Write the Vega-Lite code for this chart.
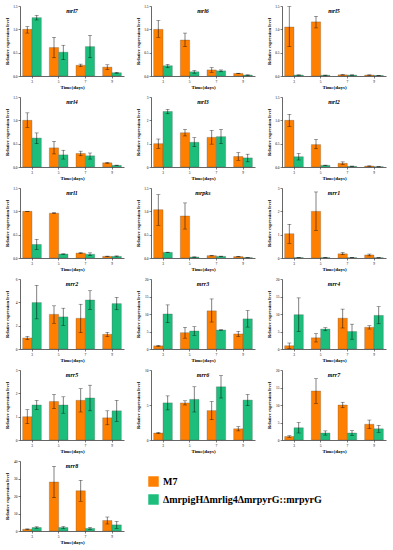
{
"$schema":"https://vega.github.io/schema/vega-lite/v6.json",
"padding":{"left":4,"top":4,"right":2,"bottom":1},
"data":{"values":[
{"gene":"mrl7","day":3,"strain":"M7","mean":1.0,"lo":0.92,"hi":1.06},
{"gene":"mrl7","day":3,"strain":"ΔmrpigHΔmrlig4ΔmrpyrG::mrpyrG","mean":1.25,"lo":1.2,"hi":1.3},
{"gene":"mrl7","day":5,"strain":"M7","mean":0.61,"lo":0.39,"hi":0.83},
{"gene":"mrl7","day":5,"strain":"ΔmrpigHΔmrlig4ΔmrpyrG::mrpyrG","mean":0.51,"lo":0.35,"hi":0.66},
{"gene":"mrl7","day":7,"strain":"M7","mean":0.23,"lo":0.2,"hi":0.255},
{"gene":"mrl7","day":7,"strain":"ΔmrpigHΔmrlig4ΔmrpyrG::mrpyrG","mean":0.63,"lo":0.39,"hi":0.87},
{"gene":"mrl7","day":9,"strain":"M7","mean":0.19,"lo":0.14,"hi":0.24},
{"gene":"mrl7","day":9,"strain":"ΔmrpigHΔmrlig4ΔmrpyrG::mrpyrG","mean":0.07,"lo":0.06,"hi":0.08},
{"gene":"mrl6","day":3,"strain":"M7","mean":1.0,"lo":0.83,"hi":1.19},
{"gene":"mrl6","day":3,"strain":"ΔmrpigHΔmrlig4ΔmrpyrG::mrpyrG","mean":0.22,"lo":0.18,"hi":0.25},
{"gene":"mrl6","day":5,"strain":"M7","mean":0.77,"lo":0.63,"hi":0.92},
{"gene":"mrl6","day":5,"strain":"ΔmrpigHΔmrlig4ΔmrpyrG::mrpyrG","mean":0.09,"lo":0.06,"hi":0.12},
{"gene":"mrl6","day":7,"strain":"M7","mean":0.13,"lo":0.08,"hi":0.18},
{"gene":"mrl6","day":7,"strain":"ΔmrpigHΔmrlig4ΔmrpyrG::mrpyrG","mean":0.11,"lo":0.09,"hi":0.13},
{"gene":"mrl6","day":9,"strain":"M7","mean":0.055,"lo":0.05,"hi":0.06},
{"gene":"mrl6","day":9,"strain":"ΔmrpigHΔmrlig4ΔmrpyrG::mrpyrG","mean":0.02,"lo":0.015,"hi":0.025},
{"gene":"mrl5","day":3,"strain":"M7","mean":1.05,"lo":0.63,"hi":1.49},
{"gene":"mrl5","day":3,"strain":"ΔmrpigHΔmrlig4ΔmrpyrG::mrpyrG","mean":0.02,"lo":0.015,"hi":0.025},
{"gene":"mrl5","day":5,"strain":"M7","mean":1.16,"lo":1.03,"hi":1.28},
{"gene":"mrl5","day":5,"strain":"ΔmrpigHΔmrlig4ΔmrpyrG::mrpyrG","mean":0.015,"lo":0.01,"hi":0.02},
{"gene":"mrl5","day":7,"strain":"M7","mean":0.025,"lo":0.02,"hi":0.03},
{"gene":"mrl5","day":7,"strain":"ΔmrpigHΔmrlig4ΔmrpyrG::mrpyrG","mean":0.02,"lo":0.015,"hi":0.025},
{"gene":"mrl5","day":9,"strain":"M7","mean":0.02,"lo":0.015,"hi":0.025},
{"gene":"mrl5","day":9,"strain":"ΔmrpigHΔmrlig4ΔmrpyrG::mrpyrG","mean":0.01,"lo":0.008,"hi":0.012},
{"gene":"mrl4","day":3,"strain":"M7","mean":1.0,"lo":0.85,"hi":1.16},
{"gene":"mrl4","day":3,"strain":"ΔmrpigHΔmrlig4ΔmrpyrG::mrpyrG","mean":0.62,"lo":0.5,"hi":0.73},
{"gene":"mrl4","day":5,"strain":"M7","mean":0.41,"lo":0.28,"hi":0.55},
{"gene":"mrl4","day":5,"strain":"ΔmrpigHΔmrlig4ΔmrpyrG::mrpyrG","mean":0.26,"lo":0.17,"hi":0.36},
{"gene":"mrl4","day":7,"strain":"M7","mean":0.29,"lo":0.24,"hi":0.34},
{"gene":"mrl4","day":7,"strain":"ΔmrpigHΔmrlig4ΔmrpyrG::mrpyrG","mean":0.24,"lo":0.17,"hi":0.3},
{"gene":"mrl4","day":9,"strain":"M7","mean":0.09,"lo":0.08,"hi":0.1},
{"gene":"mrl4","day":9,"strain":"ΔmrpigHΔmrlig4ΔmrpyrG::mrpyrG","mean":0.035,"lo":0.03,"hi":0.04},
{"gene":"mrl3","day":3,"strain":"M7","mean":1.0,"lo":0.8,"hi":1.2},
{"gene":"mrl3","day":3,"strain":"ΔmrpigHΔmrlig4ΔmrpyrG::mrpyrG","mean":2.38,"lo":2.28,"hi":2.47},
{"gene":"mrl3","day":5,"strain":"M7","mean":1.47,"lo":1.33,"hi":1.61},
{"gene":"mrl3","day":5,"strain":"ΔmrpigHΔmrlig4ΔmrpyrG::mrpyrG","mean":1.06,"lo":0.87,"hi":1.26},
{"gene":"mrl3","day":7,"strain":"M7","mean":1.27,"lo":0.98,"hi":1.57},
{"gene":"mrl3","day":7,"strain":"ΔmrpigHΔmrlig4ΔmrpyrG::mrpyrG","mean":1.3,"lo":1.0,"hi":1.61},
{"gene":"mrl3","day":9,"strain":"M7","mean":0.45,"lo":0.29,"hi":0.62},
{"gene":"mrl3","day":9,"strain":"ΔmrpigHΔmrlig4ΔmrpyrG::mrpyrG","mean":0.39,"lo":0.22,"hi":0.55},
{"gene":"mrl2","day":3,"strain":"M7","mean":1.0,"lo":0.87,"hi":1.13},
{"gene":"mrl2","day":3,"strain":"ΔmrpigHΔmrlig4ΔmrpyrG::mrpyrG","mean":0.22,"lo":0.15,"hi":0.29},
{"gene":"mrl2","day":5,"strain":"M7","mean":0.48,"lo":0.39,"hi":0.59},
{"gene":"mrl2","day":5,"strain":"ΔmrpigHΔmrlig4ΔmrpyrG::mrpyrG","mean":0.035,"lo":0.03,"hi":0.04},
{"gene":"mrl2","day":7,"strain":"M7","mean":0.08,"lo":0.055,"hi":0.11},
{"gene":"mrl2","day":7,"strain":"ΔmrpigHΔmrlig4ΔmrpyrG::mrpyrG","mean":0.015,"lo":0.01,"hi":0.02},
{"gene":"mrl2","day":9,"strain":"M7","mean":0.02,"lo":0.015,"hi":0.025},
{"gene":"mrl2","day":9,"strain":"ΔmrpigHΔmrlig4ΔmrpyrG::mrpyrG","mean":0.005,"lo":0.004,"hi":0.006},
{"gene":"mrl1","day":3,"strain":"M7","mean":1.0,"lo":1.0,"hi":1.0},
{"gene":"mrl1","day":3,"strain":"ΔmrpigHΔmrlig4ΔmrpyrG::mrpyrG","mean":0.29,"lo":0.18,"hi":0.4},
{"gene":"mrl1","day":5,"strain":"M7","mean":0.96,"lo":0.95,"hi":0.97},
{"gene":"mrl1","day":5,"strain":"ΔmrpigHΔmrlig4ΔmrpyrG::mrpyrG","mean":0.085,"lo":0.08,"hi":0.09},
{"gene":"mrl1","day":7,"strain":"M7","mean":0.105,"lo":0.095,"hi":0.115},
{"gene":"mrl1","day":7,"strain":"ΔmrpigHΔmrlig4ΔmrpyrG::mrpyrG","mean":0.08,"lo":0.05,"hi":0.11},
{"gene":"mrl1","day":9,"strain":"M7","mean":0.035,"lo":0.03,"hi":0.04},
{"gene":"mrl1","day":9,"strain":"ΔmrpigHΔmrlig4ΔmrpyrG::mrpyrG","mean":0.035,"lo":0.025,"hi":0.045},
{"gene":"mrpks","day":3,"strain":"M7","mean":1.035,"lo":0.7,"hi":1.36},
{"gene":"mrpks","day":3,"strain":"ΔmrpigHΔmrlig4ΔmrpyrG::mrpyrG","mean":0.12,"lo":0.115,"hi":0.125},
{"gene":"mrpks","day":5,"strain":"M7","mean":0.9,"lo":0.62,"hi":1.18},
{"gene":"mrpks","day":5,"strain":"ΔmrpigHΔmrlig4ΔmrpyrG::mrpyrG","mean":0.02,"lo":0.015,"hi":0.025},
{"gene":"mrpks","day":7,"strain":"M7","mean":0.05,"lo":0.045,"hi":0.055},
{"gene":"mrpks","day":7,"strain":"ΔmrpigHΔmrlig4ΔmrpyrG::mrpyrG","mean":0.035,"lo":0.03,"hi":0.04},
{"gene":"mrpks","day":9,"strain":"M7","mean":0.03,"lo":0.025,"hi":0.035},
{"gene":"mrpks","day":9,"strain":"ΔmrpigHΔmrlig4ΔmrpyrG::mrpyrG","mean":0.007,"lo":0.005,"hi":0.009},
{"gene":"mrr1","day":3,"strain":"M7","mean":1.04,"lo":0.63,"hi":1.45},
{"gene":"mrr1","day":3,"strain":"ΔmrpigHΔmrlig4ΔmrpyrG::mrpyrG","mean":0.015,"lo":0.01,"hi":0.02},
{"gene":"mrr1","day":5,"strain":"M7","mean":2.0,"lo":1.18,"hi":2.83},
{"gene":"mrr1","day":5,"strain":"ΔmrpigHΔmrlig4ΔmrpyrG::mrpyrG","mean":0.015,"lo":0.01,"hi":0.02},
{"gene":"mrr1","day":7,"strain":"M7","mean":0.18,"lo":0.14,"hi":0.24},
{"gene":"mrr1","day":7,"strain":"ΔmrpigHΔmrlig4ΔmrpyrG::mrpyrG","mean":0.015,"lo":0.01,"hi":0.02},
{"gene":"mrr1","day":9,"strain":"M7","mean":0.13,"lo":0.09,"hi":0.17},
{"gene":"mrr1","day":9,"strain":"ΔmrpigHΔmrlig4ΔmrpyrG::mrpyrG","mean":0.01,"lo":0.008,"hi":0.012},
{"gene":"mrr2","day":3,"strain":"M7","mean":0.95,"lo":0.8,"hi":1.09},
{"gene":"mrr2","day":3,"strain":"ΔmrpigHΔmrlig4ΔmrpyrG::mrpyrG","mean":3.98,"lo":2.58,"hi":5.46},
{"gene":"mrr2","day":5,"strain":"M7","mean":2.97,"lo":2.21,"hi":3.7},
{"gene":"mrr2","day":5,"strain":"ΔmrpigHΔmrlig4ΔmrpyrG::mrpyrG","mean":2.75,"lo":2.02,"hi":3.5},
{"gene":"mrr2","day":7,"strain":"M7","mean":2.63,"lo":1.4,"hi":3.84},
{"gene":"mrr2","day":7,"strain":"ΔmrpigHΔmrlig4ΔmrpyrG::mrpyrG","mean":4.2,"lo":3.39,"hi":4.99},
{"gene":"mrr2","day":9,"strain":"M7","mean":1.26,"lo":1.06,"hi":1.43},
{"gene":"mrr2","day":9,"strain":"ΔmrpigHΔmrlig4ΔmrpyrG::mrpyrG","mean":3.89,"lo":3.36,"hi":4.43},
{"gene":"mrr3","day":3,"strain":"M7","mean":0.9,"lo":0.75,"hi":1.05},
{"gene":"mrr3","day":3,"strain":"ΔmrpigHΔmrlig4ΔmrpyrG::mrpyrG","mean":10.0,"lo":7.5,"hi":12.6},
{"gene":"mrr3","day":5,"strain":"M7","mean":4.67,"lo":3.1,"hi":6.2},
{"gene":"mrr3","day":5,"strain":"ΔmrpigHΔmrlig4ΔmrpyrG::mrpyrG","mean":5.14,"lo":3.93,"hi":6.36},
{"gene":"mrr3","day":7,"strain":"M7","mean":10.9,"lo":7.7,"hi":14.3},
{"gene":"mrr3","day":7,"strain":"ΔmrpigHΔmrlig4ΔmrpyrG::mrpyrG","mean":5.42,"lo":5.32,"hi":5.52},
{"gene":"mrr3","day":9,"strain":"M7","mean":4.3,"lo":3.55,"hi":5.05},
{"gene":"mrr3","day":9,"strain":"ΔmrpigHΔmrlig4ΔmrpyrG::mrpyrG","mean":8.6,"lo":6.26,"hi":11.0},
{"gene":"mrr4","day":3,"strain":"M7","mean":0.93,"lo":0.2,"hi":1.7},
{"gene":"mrr4","day":3,"strain":"ΔmrpigHΔmrlig4ΔmrpyrG::mrpyrG","mean":9.8,"lo":5.0,"hi":14.6},
{"gene":"mrr4","day":5,"strain":"M7","mean":3.2,"lo":2.0,"hi":4.4},
{"gene":"mrr4","day":5,"strain":"ΔmrpigHΔmrlig4ΔmrpyrG::mrpyrG","mean":5.7,"lo":5.2,"hi":6.1},
{"gene":"mrr4","day":7,"strain":"M7","mean":8.8,"lo":6.0,"hi":11.4},
{"gene":"mrr4","day":7,"strain":"ΔmrpigHΔmrlig4ΔmrpyrG::mrpyrG","mean":5.0,"lo":2.8,"hi":7.1},
{"gene":"mrr4","day":9,"strain":"M7","mean":6.2,"lo":5.7,"hi":6.65},
{"gene":"mrr4","day":9,"strain":"ΔmrpigHΔmrlig4ΔmrpyrG::mrpyrG","mean":9.6,"lo":7.2,"hi":12.1},
{"gene":"mrr5","day":3,"strain":"M7","mean":1.0,"lo":0.7,"hi":1.3},
{"gene":"mrr5","day":3,"strain":"ΔmrpigHΔmrlig4ΔmrpyrG::mrpyrG","mean":1.5,"lo":1.3,"hi":1.7},
{"gene":"mrr5","day":5,"strain":"M7","mean":1.65,"lo":1.35,"hi":1.95},
{"gene":"mrr5","day":5,"strain":"ΔmrpigHΔmrlig4ΔmrpyrG::mrpyrG","mean":1.5,"lo":1.15,"hi":1.85},
{"gene":"mrr5","day":7,"strain":"M7","mean":1.7,"lo":1.2,"hi":2.2},
{"gene":"mrr5","day":7,"strain":"ΔmrpigHΔmrlig4ΔmrpyrG::mrpyrG","mean":1.8,"lo":1.25,"hi":2.35},
{"gene":"mrr5","day":9,"strain":"M7","mean":0.95,"lo":0.65,"hi":1.25},
{"gene":"mrr5","day":9,"strain":"ΔmrpigHΔmrlig4ΔmrpyrG::mrpyrG","mean":1.25,"lo":0.8,"hi":1.7},
{"gene":"mrr6","day":3,"strain":"M7","mean":1.0,"lo":0.9,"hi":1.1},
{"gene":"mrr6","day":3,"strain":"ΔmrpigHΔmrlig4ΔmrpyrG::mrpyrG","mean":5.3,"lo":4.3,"hi":6.3},
{"gene":"mrr6","day":5,"strain":"M7","mean":5.3,"lo":5.0,"hi":5.6},
{"gene":"mrr6","day":5,"strain":"ΔmrpigHΔmrlig4ΔmrpyrG::mrpyrG","mean":5.8,"lo":4.0,"hi":7.6},
{"gene":"mrr6","day":7,"strain":"M7","mean":4.2,"lo":2.9,"hi":5.5},
{"gene":"mrr6","day":7,"strain":"ΔmrpigHΔmrlig4ΔmrpyrG::mrpyrG","mean":7.6,"lo":6.0,"hi":9.2},
{"gene":"mrr6","day":9,"strain":"M7","mean":1.6,"lo":1.3,"hi":1.9},
{"gene":"mrr6","day":9,"strain":"ΔmrpigHΔmrlig4ΔmrpyrG::mrpyrG","mean":5.7,"lo":4.9,"hi":6.5},
{"gene":"mrr7","day":3,"strain":"M7","mean":1.0,"lo":0.8,"hi":1.2},
{"gene":"mrr7","day":3,"strain":"ΔmrpigHΔmrlig4ΔmrpyrG::mrpyrG","mean":3.5,"lo":2.0,"hi":5.0},
{"gene":"mrr7","day":5,"strain":"M7","mean":14,"lo":10.5,"hi":17.5},
{"gene":"mrr7","day":5,"strain":"ΔmrpigHΔmrlig4ΔmrpyrG::mrpyrG","mean":2,"lo":1.4,"hi":2.6},
{"gene":"mrr7","day":7,"strain":"M7","mean":10,"lo":9.2,"hi":10.8},
{"gene":"mrr7","day":7,"strain":"ΔmrpigHΔmrlig4ΔmrpyrG::mrpyrG","mean":2,"lo":1.3,"hi":2.7},
{"gene":"mrr7","day":9,"strain":"M7","mean":4.5,"lo":3.3,"hi":5.7},
{"gene":"mrr7","day":9,"strain":"ΔmrpigHΔmrlig4ΔmrpyrG::mrpyrG","mean":3.2,"lo":2.2,"hi":4.2},
{"gene":"mrr8","day":3,"strain":"M7","mean":1.0,"lo":0.8,"hi":1.2},
{"gene":"mrr8","day":3,"strain":"ΔmrpigHΔmrlig4ΔmrpyrG::mrpyrG","mean":2.0,"lo":1.6,"hi":2.4},
{"gene":"mrr8","day":5,"strain":"M7","mean":28,"lo":19,"hi":37},
{"gene":"mrr8","day":5,"strain":"ΔmrpigHΔmrlig4ΔmrpyrG::mrpyrG","mean":2,"lo":1.4,"hi":2.6},
{"gene":"mrr8","day":7,"strain":"M7","mean":23,"lo":17,"hi":29},
{"gene":"mrr8","day":7,"strain":"ΔmrpigHΔmrlig4ΔmrpyrG::mrpyrG","mean":1.5,"lo":1.0,"hi":2.0},
{"gene":"mrr8","day":9,"strain":"M7","mean":6,"lo":4,"hi":8},
{"gene":"mrr8","day":9,"strain":"ΔmrpigHΔmrlig4ΔmrpyrG::mrpyrG","mean":3.5,"lo":1.5,"hi":5.5}
]},
"config":{
"view":{"stroke":null},
"font":"Liberation Serif",
"axis":{"grid":false,"domainColor":"#000","tickColor":"#000","labelColor":"#000","titleColor":"#000","labelFont":"Liberation Serif","titleFont":"Liberation Serif","labelFontSize":3.5,"titleFontSize":4.5,"titleFontWeight":"bold","tickSize":2,"domainWidth":0.6,"tickWidth":0.5,"labelPadding":1},
"axisY":{"tickCount":3,"minExtent":9,"maxExtent":9,"titlePadding":2},
"axisX":{"labelAngle":0,"titlePadding":2,"titleFontSize":5},
"title":{"font":"Liberation Serif","fontStyle":"italic","fontWeight":"bold","fontSize":6,"color":"#000","offset":-10,"anchor":"middle"},
"legend":{"orient":"none","legendX":128,"legendY":470,"labelFont":"Liberation Serif","labelFontSize":10,"labelFontWeight":"bold","labelColor":"#000","symbolType":"square","symbolSize":110,"symbolStrokeWidth":0,"rowPadding":7,"labelLimit":300}
},
"spacing":5,
"vconcat":[
{"hconcat":[
{"width":104,"height":70,"title":{"text":"mrl7"},"transform":[{"filter":"datum.gene==='mrl7'"}],"encoding":{"x":{"field":"day","type":"ordinal","title":"Time(days)","scale":{"paddingInner":0.3,"paddingOuter":0.1}},"xOffset":{"field":"strain","type":"nominal","sort":["M7","ΔmrpigHΔmrlig4ΔmrpyrG::mrpyrG"]}},"layer":[
{"mark":{"type":"bar","stroke":"#555","strokeWidth":0.3},"encoding":{"y":{"field":"mean","type":"quantitative","scale":{"domain":[0,1.5],"nice":false},"axis":{"format":".1f"},"title":"Relative expression level"},"color":{"field":"strain","type":"nominal","scale":{"domain":["M7","ΔmrpigHΔmrlig4ΔmrpyrG::mrpyrG"],"range":["#FF8000","#1DBE7C"]},"legend":{"title":null}}}},
{"mark":{"type":"rule","strokeWidth":0.5,"color":"#000"},"encoding":{"y":{"field":"lo","type":"quantitative","title":"Relative expression level"},"y2":{"field":"hi"}}},
{"mark":{"type":"tick","orient":"horizontal","size":4,"thickness":0.5,"color":"#000"},"encoding":{"y":{"field":"hi","type":"quantitative","title":"Relative expression level"}}},
{"mark":{"type":"tick","orient":"horizontal","size":4,"thickness":0.5,"color":"#000"},"encoding":{"y":{"field":"lo","type":"quantitative","title":"Relative expression level"}}}]},
{"width":104,"height":70,"title":{"text":"mrl6"},"transform":[{"filter":"datum.gene==='mrl6'"}],"encoding":{"x":{"field":"day","type":"ordinal","title":"Time(days)","scale":{"paddingInner":0.3,"paddingOuter":0.1}},"xOffset":{"field":"strain","type":"nominal","sort":["M7","ΔmrpigHΔmrlig4ΔmrpyrG::mrpyrG"]}},"layer":[
{"mark":{"type":"bar","stroke":"#555","strokeWidth":0.3},"encoding":{"y":{"field":"mean","type":"quantitative","scale":{"domain":[0,1.5],"nice":false},"axis":{"format":".1f"},"title":"Relative expression level"},"color":{"field":"strain","type":"nominal","scale":{"domain":["M7","ΔmrpigHΔmrlig4ΔmrpyrG::mrpyrG"],"range":["#FF8000","#1DBE7C"]},"legend":{"title":null}}}},
{"mark":{"type":"rule","strokeWidth":0.5,"color":"#000"},"encoding":{"y":{"field":"lo","type":"quantitative","title":"Relative expression level"},"y2":{"field":"hi"}}},
{"mark":{"type":"tick","orient":"horizontal","size":4,"thickness":0.5,"color":"#000"},"encoding":{"y":{"field":"hi","type":"quantitative","title":"Relative expression level"}}},
{"mark":{"type":"tick","orient":"horizontal","size":4,"thickness":0.5,"color":"#000"},"encoding":{"y":{"field":"lo","type":"quantitative","title":"Relative expression level"}}}]},
{"width":104,"height":70,"title":{"text":"mrl5"},"transform":[{"filter":"datum.gene==='mrl5'"}],"encoding":{"x":{"field":"day","type":"ordinal","title":"Time(days)","scale":{"paddingInner":0.3,"paddingOuter":0.1}},"xOffset":{"field":"strain","type":"nominal","sort":["M7","ΔmrpigHΔmrlig4ΔmrpyrG::mrpyrG"]}},"layer":[
{"mark":{"type":"bar","stroke":"#555","strokeWidth":0.3},"encoding":{"y":{"field":"mean","type":"quantitative","scale":{"domain":[0,1.5],"nice":false},"axis":{"format":".1f"},"title":"Relative expression level"},"color":{"field":"strain","type":"nominal","scale":{"domain":["M7","ΔmrpigHΔmrlig4ΔmrpyrG::mrpyrG"],"range":["#FF8000","#1DBE7C"]},"legend":{"title":null}}}},
{"mark":{"type":"rule","strokeWidth":0.5,"color":"#000"},"encoding":{"y":{"field":"lo","type":"quantitative","title":"Relative expression level"},"y2":{"field":"hi"}}},
{"mark":{"type":"tick","orient":"horizontal","size":4,"thickness":0.5,"color":"#000"},"encoding":{"y":{"field":"hi","type":"quantitative","title":"Relative expression level"}}},
{"mark":{"type":"tick","orient":"horizontal","size":4,"thickness":0.5,"color":"#000"},"encoding":{"y":{"field":"lo","type":"quantitative","title":"Relative expression level"}}}]}
],"spacing":11},
{"hconcat":[
{"width":104,"height":70,"title":{"text":"mrl4"},"transform":[{"filter":"datum.gene==='mrl4'"}],"encoding":{"x":{"field":"day","type":"ordinal","title":"Time(days)","scale":{"paddingInner":0.3,"paddingOuter":0.1}},"xOffset":{"field":"strain","type":"nominal","sort":["M7","ΔmrpigHΔmrlig4ΔmrpyrG::mrpyrG"]}},"layer":[
{"mark":{"type":"bar","stroke":"#555","strokeWidth":0.3},"encoding":{"y":{"field":"mean","type":"quantitative","scale":{"domain":[0,1.5],"nice":false},"axis":{"format":".1f"},"title":"Relative expression level"},"color":{"field":"strain","type":"nominal","scale":{"domain":["M7","ΔmrpigHΔmrlig4ΔmrpyrG::mrpyrG"],"range":["#FF8000","#1DBE7C"]},"legend":{"title":null}}}},
{"mark":{"type":"rule","strokeWidth":0.5,"color":"#000"},"encoding":{"y":{"field":"lo","type":"quantitative","title":"Relative expression level"},"y2":{"field":"hi"}}},
{"mark":{"type":"tick","orient":"horizontal","size":4,"thickness":0.5,"color":"#000"},"encoding":{"y":{"field":"hi","type":"quantitative","title":"Relative expression level"}}},
{"mark":{"type":"tick","orient":"horizontal","size":4,"thickness":0.5,"color":"#000"},"encoding":{"y":{"field":"lo","type":"quantitative","title":"Relative expression level"}}}]},
{"width":104,"height":70,"title":{"text":"mrl3"},"transform":[{"filter":"datum.gene==='mrl3'"}],"encoding":{"x":{"field":"day","type":"ordinal","title":"Time(days)","scale":{"paddingInner":0.3,"paddingOuter":0.1}},"xOffset":{"field":"strain","type":"nominal","sort":["M7","ΔmrpigHΔmrlig4ΔmrpyrG::mrpyrG"]}},"layer":[
{"mark":{"type":"bar","stroke":"#555","strokeWidth":0.3},"encoding":{"y":{"field":"mean","type":"quantitative","scale":{"domain":[0,3],"nice":false},"axis":{"format":"d"},"title":"Relative expression level"},"color":{"field":"strain","type":"nominal","scale":{"domain":["M7","ΔmrpigHΔmrlig4ΔmrpyrG::mrpyrG"],"range":["#FF8000","#1DBE7C"]},"legend":{"title":null}}}},
{"mark":{"type":"rule","strokeWidth":0.5,"color":"#000"},"encoding":{"y":{"field":"lo","type":"quantitative","title":"Relative expression level"},"y2":{"field":"hi"}}},
{"mark":{"type":"tick","orient":"horizontal","size":4,"thickness":0.5,"color":"#000"},"encoding":{"y":{"field":"hi","type":"quantitative","title":"Relative expression level"}}},
{"mark":{"type":"tick","orient":"horizontal","size":4,"thickness":0.5,"color":"#000"},"encoding":{"y":{"field":"lo","type":"quantitative","title":"Relative expression level"}}}]},
{"width":104,"height":70,"title":{"text":"mrl2"},"transform":[{"filter":"datum.gene==='mrl2'"}],"encoding":{"x":{"field":"day","type":"ordinal","title":"Time(days)","scale":{"paddingInner":0.3,"paddingOuter":0.1}},"xOffset":{"field":"strain","type":"nominal","sort":["M7","ΔmrpigHΔmrlig4ΔmrpyrG::mrpyrG"]}},"layer":[
{"mark":{"type":"bar","stroke":"#555","strokeWidth":0.3},"encoding":{"y":{"field":"mean","type":"quantitative","scale":{"domain":[0,1.5],"nice":false},"axis":{"format":".1f"},"title":"Relative expression level"},"color":{"field":"strain","type":"nominal","scale":{"domain":["M7","ΔmrpigHΔmrlig4ΔmrpyrG::mrpyrG"],"range":["#FF8000","#1DBE7C"]},"legend":{"title":null}}}},
{"mark":{"type":"rule","strokeWidth":0.5,"color":"#000"},"encoding":{"y":{"field":"lo","type":"quantitative","title":"Relative expression level"},"y2":{"field":"hi"}}},
{"mark":{"type":"tick","orient":"horizontal","size":4,"thickness":0.5,"color":"#000"},"encoding":{"y":{"field":"hi","type":"quantitative","title":"Relative expression level"}}},
{"mark":{"type":"tick","orient":"horizontal","size":4,"thickness":0.5,"color":"#000"},"encoding":{"y":{"field":"lo","type":"quantitative","title":"Relative expression level"}}}]}
],"spacing":11},
{"hconcat":[
{"width":104,"height":70,"title":{"text":"mrl1"},"transform":[{"filter":"datum.gene==='mrl1'"}],"encoding":{"x":{"field":"day","type":"ordinal","title":"Time(days)","scale":{"paddingInner":0.3,"paddingOuter":0.1}},"xOffset":{"field":"strain","type":"nominal","sort":["M7","ΔmrpigHΔmrlig4ΔmrpyrG::mrpyrG"]}},"layer":[
{"mark":{"type":"bar","stroke":"#555","strokeWidth":0.3},"encoding":{"y":{"field":"mean","type":"quantitative","scale":{"domain":[0,1.5],"nice":false},"axis":{"format":".1f"},"title":"Relative expression level"},"color":{"field":"strain","type":"nominal","scale":{"domain":["M7","ΔmrpigHΔmrlig4ΔmrpyrG::mrpyrG"],"range":["#FF8000","#1DBE7C"]},"legend":{"title":null}}}},
{"mark":{"type":"rule","strokeWidth":0.5,"color":"#000"},"encoding":{"y":{"field":"lo","type":"quantitative","title":"Relative expression level"},"y2":{"field":"hi"}}},
{"mark":{"type":"tick","orient":"horizontal","size":4,"thickness":0.5,"color":"#000"},"encoding":{"y":{"field":"hi","type":"quantitative","title":"Relative expression level"}}},
{"mark":{"type":"tick","orient":"horizontal","size":4,"thickness":0.5,"color":"#000"},"encoding":{"y":{"field":"lo","type":"quantitative","title":"Relative expression level"}}}]},
{"width":104,"height":70,"title":{"text":"mrpks"},"transform":[{"filter":"datum.gene==='mrpks'"}],"encoding":{"x":{"field":"day","type":"ordinal","title":"Time(days)","scale":{"paddingInner":0.3,"paddingOuter":0.1}},"xOffset":{"field":"strain","type":"nominal","sort":["M7","ΔmrpigHΔmrlig4ΔmrpyrG::mrpyrG"]}},"layer":[
{"mark":{"type":"bar","stroke":"#555","strokeWidth":0.3},"encoding":{"y":{"field":"mean","type":"quantitative","scale":{"domain":[0,1.5],"nice":false},"axis":{"format":".1f"},"title":"Relative expression level"},"color":{"field":"strain","type":"nominal","scale":{"domain":["M7","ΔmrpigHΔmrlig4ΔmrpyrG::mrpyrG"],"range":["#FF8000","#1DBE7C"]},"legend":{"title":null}}}},
{"mark":{"type":"rule","strokeWidth":0.5,"color":"#000"},"encoding":{"y":{"field":"lo","type":"quantitative","title":"Relative expression level"},"y2":{"field":"hi"}}},
{"mark":{"type":"tick","orient":"horizontal","size":4,"thickness":0.5,"color":"#000"},"encoding":{"y":{"field":"hi","type":"quantitative","title":"Relative expression level"}}},
{"mark":{"type":"tick","orient":"horizontal","size":4,"thickness":0.5,"color":"#000"},"encoding":{"y":{"field":"lo","type":"quantitative","title":"Relative expression level"}}}]},
{"width":104,"height":70,"title":{"text":"mrr1"},"transform":[{"filter":"datum.gene==='mrr1'"}],"encoding":{"x":{"field":"day","type":"ordinal","title":"Time(days)","scale":{"paddingInner":0.3,"paddingOuter":0.1}},"xOffset":{"field":"strain","type":"nominal","sort":["M7","ΔmrpigHΔmrlig4ΔmrpyrG::mrpyrG"]}},"layer":[
{"mark":{"type":"bar","stroke":"#555","strokeWidth":0.3},"encoding":{"y":{"field":"mean","type":"quantitative","scale":{"domain":[0,3],"nice":false},"axis":{"format":"d"},"title":"Relative expression level"},"color":{"field":"strain","type":"nominal","scale":{"domain":["M7","ΔmrpigHΔmrlig4ΔmrpyrG::mrpyrG"],"range":["#FF8000","#1DBE7C"]},"legend":{"title":null}}}},
{"mark":{"type":"rule","strokeWidth":0.5,"color":"#000"},"encoding":{"y":{"field":"lo","type":"quantitative","title":"Relative expression level"},"y2":{"field":"hi"}}},
{"mark":{"type":"tick","orient":"horizontal","size":4,"thickness":0.5,"color":"#000"},"encoding":{"y":{"field":"hi","type":"quantitative","title":"Relative expression level"}}},
{"mark":{"type":"tick","orient":"horizontal","size":4,"thickness":0.5,"color":"#000"},"encoding":{"y":{"field":"lo","type":"quantitative","title":"Relative expression level"}}}]}
],"spacing":11},
{"hconcat":[
{"width":104,"height":70,"title":{"text":"mrr2"},"transform":[{"filter":"datum.gene==='mrr2'"}],"encoding":{"x":{"field":"day","type":"ordinal","title":"Time(days)","scale":{"paddingInner":0.3,"paddingOuter":0.1}},"xOffset":{"field":"strain","type":"nominal","sort":["M7","ΔmrpigHΔmrlig4ΔmrpyrG::mrpyrG"]}},"layer":[
{"mark":{"type":"bar","stroke":"#555","strokeWidth":0.3},"encoding":{"y":{"field":"mean","type":"quantitative","scale":{"domain":[0,6],"nice":false},"axis":{"format":"d"},"title":"Relative expression level"},"color":{"field":"strain","type":"nominal","scale":{"domain":["M7","ΔmrpigHΔmrlig4ΔmrpyrG::mrpyrG"],"range":["#FF8000","#1DBE7C"]},"legend":{"title":null}}}},
{"mark":{"type":"rule","strokeWidth":0.5,"color":"#000"},"encoding":{"y":{"field":"lo","type":"quantitative","title":"Relative expression level"},"y2":{"field":"hi"}}},
{"mark":{"type":"tick","orient":"horizontal","size":4,"thickness":0.5,"color":"#000"},"encoding":{"y":{"field":"hi","type":"quantitative","title":"Relative expression level"}}},
{"mark":{"type":"tick","orient":"horizontal","size":4,"thickness":0.5,"color":"#000"},"encoding":{"y":{"field":"lo","type":"quantitative","title":"Relative expression level"}}}]},
{"width":104,"height":70,"title":{"text":"mrr3"},"transform":[{"filter":"datum.gene==='mrr3'"}],"encoding":{"x":{"field":"day","type":"ordinal","title":"Time(days)","scale":{"paddingInner":0.3,"paddingOuter":0.1}},"xOffset":{"field":"strain","type":"nominal","sort":["M7","ΔmrpigHΔmrlig4ΔmrpyrG::mrpyrG"]}},"layer":[
{"mark":{"type":"bar","stroke":"#555","strokeWidth":0.3},"encoding":{"y":{"field":"mean","type":"quantitative","scale":{"domain":[0,20],"nice":false},"axis":{"format":"d"},"title":"Relative expression level"},"color":{"field":"strain","type":"nominal","scale":{"domain":["M7","ΔmrpigHΔmrlig4ΔmrpyrG::mrpyrG"],"range":["#FF8000","#1DBE7C"]},"legend":{"title":null}}}},
{"mark":{"type":"rule","strokeWidth":0.5,"color":"#000"},"encoding":{"y":{"field":"lo","type":"quantitative","title":"Relative expression level"},"y2":{"field":"hi"}}},
{"mark":{"type":"tick","orient":"horizontal","size":4,"thickness":0.5,"color":"#000"},"encoding":{"y":{"field":"hi","type":"quantitative","title":"Relative expression level"}}},
{"mark":{"type":"tick","orient":"horizontal","size":4,"thickness":0.5,"color":"#000"},"encoding":{"y":{"field":"lo","type":"quantitative","title":"Relative expression level"}}}]},
{"width":104,"height":70,"title":{"text":"mrr4"},"transform":[{"filter":"datum.gene==='mrr4'"}],"encoding":{"x":{"field":"day","type":"ordinal","title":"Time(days)","scale":{"paddingInner":0.3,"paddingOuter":0.1}},"xOffset":{"field":"strain","type":"nominal","sort":["M7","ΔmrpigHΔmrlig4ΔmrpyrG::mrpyrG"]}},"layer":[
{"mark":{"type":"bar","stroke":"#555","strokeWidth":0.3},"encoding":{"y":{"field":"mean","type":"quantitative","scale":{"domain":[0,20],"nice":false},"axis":{"format":"d"},"title":"Relative expression level"},"color":{"field":"strain","type":"nominal","scale":{"domain":["M7","ΔmrpigHΔmrlig4ΔmrpyrG::mrpyrG"],"range":["#FF8000","#1DBE7C"]},"legend":{"title":null}}}},
{"mark":{"type":"rule","strokeWidth":0.5,"color":"#000"},"encoding":{"y":{"field":"lo","type":"quantitative","title":"Relative expression level"},"y2":{"field":"hi"}}},
{"mark":{"type":"tick","orient":"horizontal","size":4,"thickness":0.5,"color":"#000"},"encoding":{"y":{"field":"hi","type":"quantitative","title":"Relative expression level"}}},
{"mark":{"type":"tick","orient":"horizontal","size":4,"thickness":0.5,"color":"#000"},"encoding":{"y":{"field":"lo","type":"quantitative","title":"Relative expression level"}}}]}
],"spacing":11},
{"hconcat":[
{"width":104,"height":70,"title":{"text":"mrr5"},"transform":[{"filter":"datum.gene==='mrr5'"}],"encoding":{"x":{"field":"day","type":"ordinal","title":"Time(days)","scale":{"paddingInner":0.3,"paddingOuter":0.1}},"xOffset":{"field":"strain","type":"nominal","sort":["M7","ΔmrpigHΔmrlig4ΔmrpyrG::mrpyrG"]}},"layer":[
{"mark":{"type":"bar","stroke":"#555","strokeWidth":0.3},"encoding":{"y":{"field":"mean","type":"quantitative","scale":{"domain":[0,3],"nice":false},"axis":{"format":"d"},"title":"Relative expression level"},"color":{"field":"strain","type":"nominal","scale":{"domain":["M7","ΔmrpigHΔmrlig4ΔmrpyrG::mrpyrG"],"range":["#FF8000","#1DBE7C"]},"legend":{"title":null}}}},
{"mark":{"type":"rule","strokeWidth":0.5,"color":"#000"},"encoding":{"y":{"field":"lo","type":"quantitative","title":"Relative expression level"},"y2":{"field":"hi"}}},
{"mark":{"type":"tick","orient":"horizontal","size":4,"thickness":0.5,"color":"#000"},"encoding":{"y":{"field":"hi","type":"quantitative","title":"Relative expression level"}}},
{"mark":{"type":"tick","orient":"horizontal","size":4,"thickness":0.5,"color":"#000"},"encoding":{"y":{"field":"lo","type":"quantitative","title":"Relative expression level"}}}]},
{"width":104,"height":70,"title":{"text":"mrr6"},"transform":[{"filter":"datum.gene==='mrr6'"}],"encoding":{"x":{"field":"day","type":"ordinal","title":"Time(days)","scale":{"paddingInner":0.3,"paddingOuter":0.1}},"xOffset":{"field":"strain","type":"nominal","sort":["M7","ΔmrpigHΔmrlig4ΔmrpyrG::mrpyrG"]}},"layer":[
{"mark":{"type":"bar","stroke":"#555","strokeWidth":0.3},"encoding":{"y":{"field":"mean","type":"quantitative","scale":{"domain":[0,10],"nice":false},"axis":{"format":"d"},"title":"Relative expression level"},"color":{"field":"strain","type":"nominal","scale":{"domain":["M7","ΔmrpigHΔmrlig4ΔmrpyrG::mrpyrG"],"range":["#FF8000","#1DBE7C"]},"legend":{"title":null}}}},
{"mark":{"type":"rule","strokeWidth":0.5,"color":"#000"},"encoding":{"y":{"field":"lo","type":"quantitative","title":"Relative expression level"},"y2":{"field":"hi"}}},
{"mark":{"type":"tick","orient":"horizontal","size":4,"thickness":0.5,"color":"#000"},"encoding":{"y":{"field":"hi","type":"quantitative","title":"Relative expression level"}}},
{"mark":{"type":"tick","orient":"horizontal","size":4,"thickness":0.5,"color":"#000"},"encoding":{"y":{"field":"lo","type":"quantitative","title":"Relative expression level"}}}]},
{"width":104,"height":70,"title":{"text":"mrr7"},"transform":[{"filter":"datum.gene==='mrr7'"}],"encoding":{"x":{"field":"day","type":"ordinal","title":"Time(days)","scale":{"paddingInner":0.3,"paddingOuter":0.1}},"xOffset":{"field":"strain","type":"nominal","sort":["M7","ΔmrpigHΔmrlig4ΔmrpyrG::mrpyrG"]}},"layer":[
{"mark":{"type":"bar","stroke":"#555","strokeWidth":0.3},"encoding":{"y":{"field":"mean","type":"quantitative","scale":{"domain":[0,20],"nice":false},"axis":{"format":"d"},"title":"Relative expression level"},"color":{"field":"strain","type":"nominal","scale":{"domain":["M7","ΔmrpigHΔmrlig4ΔmrpyrG::mrpyrG"],"range":["#FF8000","#1DBE7C"]},"legend":{"title":null}}}},
{"mark":{"type":"rule","strokeWidth":0.5,"color":"#000"},"encoding":{"y":{"field":"lo","type":"quantitative","title":"Relative expression level"},"y2":{"field":"hi"}}},
{"mark":{"type":"tick","orient":"horizontal","size":4,"thickness":0.5,"color":"#000"},"encoding":{"y":{"field":"hi","type":"quantitative","title":"Relative expression level"}}},
{"mark":{"type":"tick","orient":"horizontal","size":4,"thickness":0.5,"color":"#000"},"encoding":{"y":{"field":"lo","type":"quantitative","title":"Relative expression level"}}}]}
],"spacing":11},
{"hconcat":[
{"width":104,"height":70,"title":{"text":"mrr8"},"transform":[{"filter":"datum.gene==='mrr8'"}],"encoding":{"x":{"field":"day","type":"ordinal","title":"Time(days)","scale":{"paddingInner":0.3,"paddingOuter":0.1}},"xOffset":{"field":"strain","type":"nominal","sort":["M7","ΔmrpigHΔmrlig4ΔmrpyrG::mrpyrG"]}},"layer":[
{"mark":{"type":"bar","stroke":"#555","strokeWidth":0.3},"encoding":{"y":{"field":"mean","type":"quantitative","scale":{"domain":[0,40],"nice":false},"axis":{"format":"d"},"title":"Relative expression level"},"color":{"field":"strain","type":"nominal","scale":{"domain":["M7","ΔmrpigHΔmrlig4ΔmrpyrG::mrpyrG"],"range":["#FF8000","#1DBE7C"]},"legend":{"title":null}}}},
{"mark":{"type":"rule","strokeWidth":0.5,"color":"#000"},"encoding":{"y":{"field":"lo","type":"quantitative","title":"Relative expression level"},"y2":{"field":"hi"}}},
{"mark":{"type":"tick","orient":"horizontal","size":4,"thickness":0.5,"color":"#000"},"encoding":{"y":{"field":"hi","type":"quantitative","title":"Relative expression level"}}},
{"mark":{"type":"tick","orient":"horizontal","size":4,"thickness":0.5,"color":"#000"},"encoding":{"y":{"field":"lo","type":"quantitative","title":"Relative expression level"}}}]}
],"spacing":11}
]
}
